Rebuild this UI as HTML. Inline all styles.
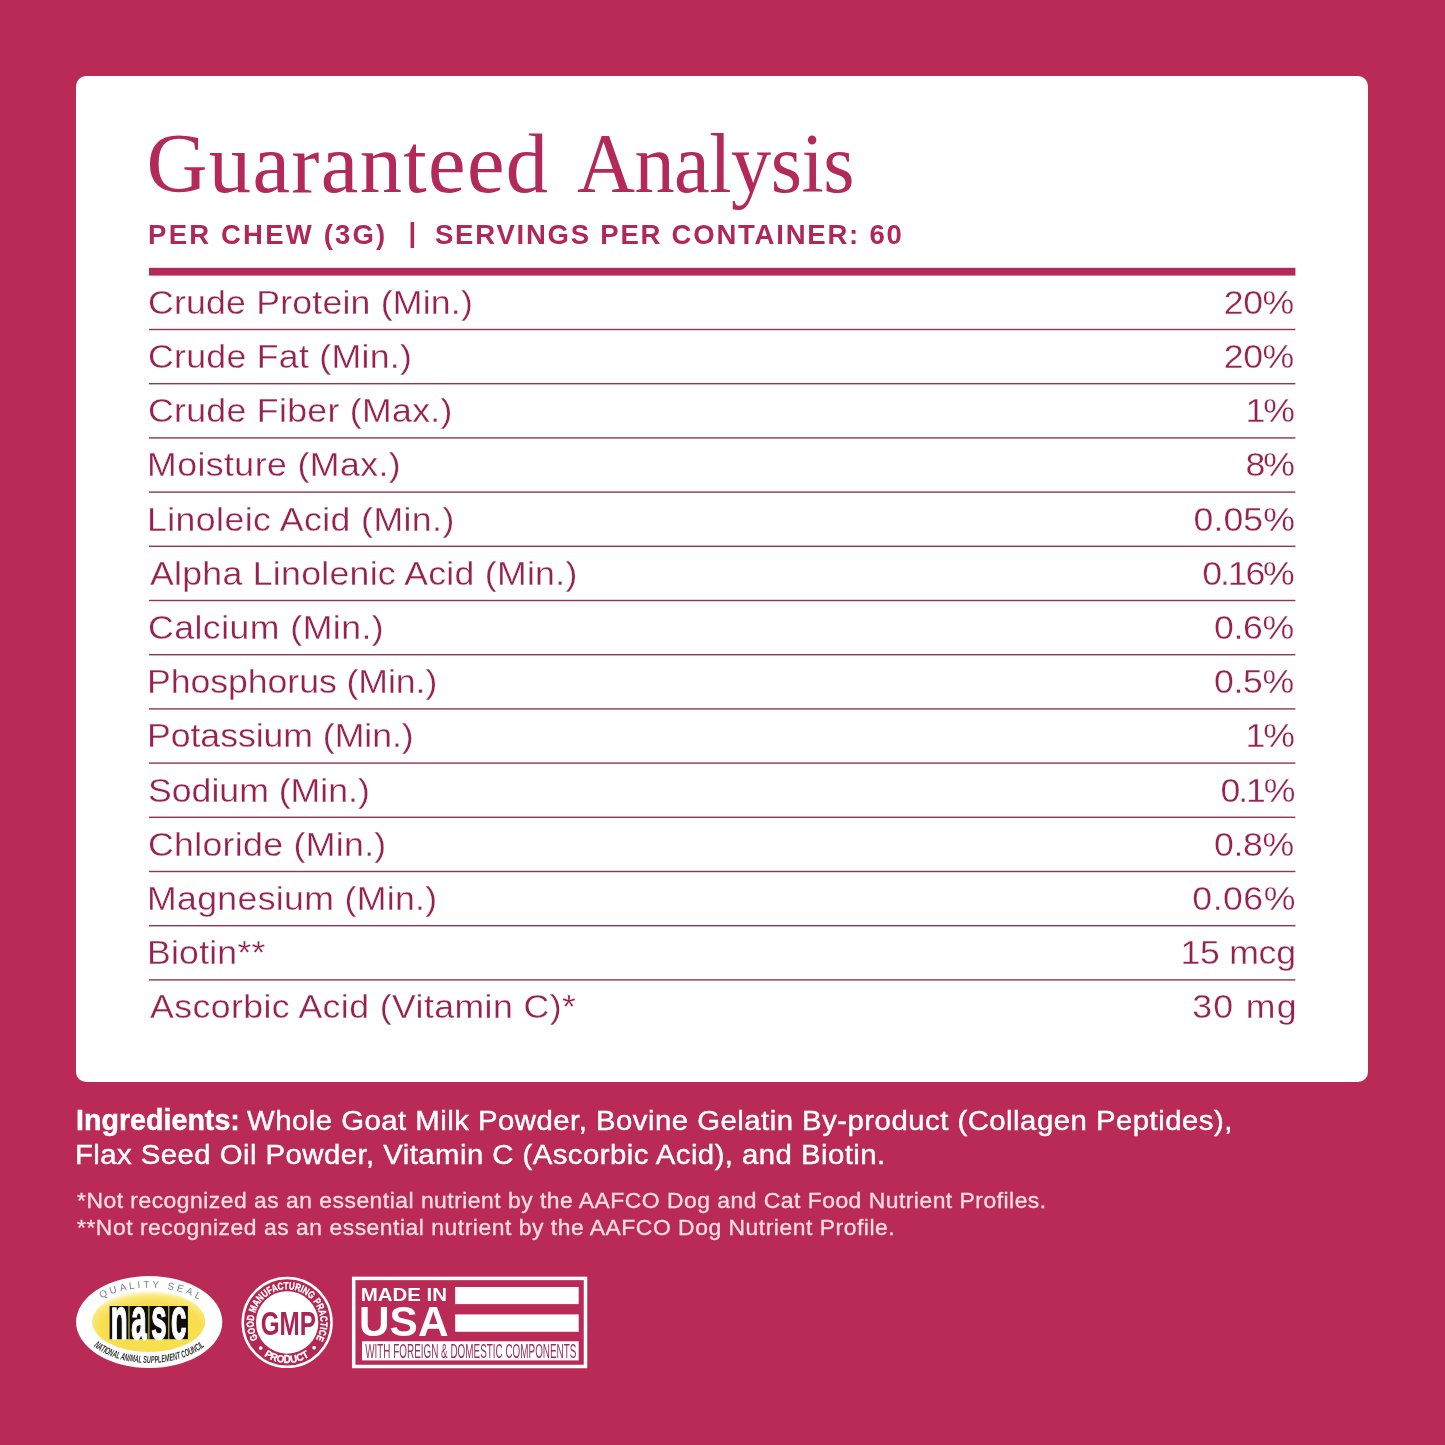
<!DOCTYPE html>
<html lang="en"><head><meta charset="utf-8"><title>Guaranteed Analysis</title>
<style>
html,body{margin:0;padding:0}
body{width:1445px;height:1445px;background:#b92b56;position:relative;overflow:hidden;font-family:"Liberation Sans",sans-serif}
.card{position:absolute;left:76px;top:76px;width:1292px;height:1006px;background:#fff;border-radius:10px}
.t{position:absolute;white-space:pre;line-height:1;margin:0;font-weight:normal;transform-origin:0 0}
.title{font-family:"Liberation Serif",serif;font-size:84.5px;color:#b3295a}
.sub{font-size:27.5px;color:#ae2858}
.b{font-weight:bold}
.row{font-size:33px;color:#96234f;-webkit-text-stroke:0.3px #fff;transform:scaleX(1.08)}
.val{transform-origin:100% 0}
.ing{font-size:28.2px;color:#fff;-webkit-text-stroke:0.45px #fff}
.fn{font-size:21.6px;color:#fbdde6;-webkit-text-stroke:0.3px #fbdde6}
svg{position:absolute;left:0;top:0}
</style></head><body>
<div class="card"></div>
<h1 style="margin:0;font-weight:normal"><span class="t title" style="left:146.5px;top:121.8px;font-size:84.5px;letter-spacing:1.35px;">Guaranteed</span>
<span class="t title" style="left:577.0px;top:121.8px;font-size:84.5px;letter-spacing:-0.52px;transform:scaleX(0.95);">Analysis</span></h1>
<div class="t sub b" style="left:148.1px;top:220.9px;font-size:27.5px;letter-spacing:2.19px;">PER CHEW (3G)</div>
<div class="t sub b" style="left:408.5px;top:219.1px;font-size:27.5px;letter-spacing:0.00px;">|</div>
<div class="t sub b" style="left:435.0px;top:220.9px;font-size:27.5px;letter-spacing:1.78px;">SERVINGS PER CONTAINER: 60</div>
<div class="t ing b" style="left:76.0px;top:1106.1px;font-size:28.6px;letter-spacing:0.02px;">Ingredients:</div>
<div class="t ing" style="left:247.0px;top:1106.4px;font-size:28.2px;letter-spacing:0.47px;transform:scaleX(1.04);">Whole Goat Milk Powder, Bovine Gelatin By-product (Collagen Peptides),</div>
<div class="t ing" style="left:75.0px;top:1139.7px;font-size:28.2px;letter-spacing:0.44px;transform:scaleX(1.04);">Flax Seed Oil Powder, Vitamin C (Ascorbic Acid), and Biotin.</div>
<div class="t fn" style="left:77.0px;top:1190.0px;font-size:21.6px;letter-spacing:0.46px;transform:scaleX(1.06);">*Not recognized as an essential nutrient by the AAFCO Dog and Cat Food Nutrient Profiles.</div>
<div class="t fn" style="left:77.0px;top:1217.0px;font-size:21.6px;letter-spacing:0.49px;transform:scaleX(1.06);">**Not recognized as an essential nutrient by the AAFCO Dog Nutrient Profile.</div>
<div class="t row" style="left:147.7px;top:285.7px;letter-spacing:0.19px">Crude Protein (Min.)</div><div class="t row val" style="right:150.5px;top:285.7px;letter-spacing:-0.39px;margin-right:0.39px">20%</div>
<div class="t row" style="left:147.7px;top:339.9px;letter-spacing:0.27px">Crude Fat (Min.)</div><div class="t row val" style="right:150.5px;top:339.9px;letter-spacing:-0.39px;margin-right:0.39px">20%</div>
<div class="t row" style="left:147.7px;top:394.1px;letter-spacing:0.29px">Crude Fiber (Max.)</div><div class="t row val" style="right:150.5px;top:394.1px;letter-spacing:-2.00px;margin-right:2.00px">1%</div>
<div class="t row" style="left:146.7px;top:448.3px;letter-spacing:0.41px">Moisture (Max.)</div><div class="t row val" style="right:150.5px;top:448.3px;letter-spacing:-2.00px;margin-right:2.00px">8%</div>
<div class="t row" style="left:146.7px;top:502.5px;letter-spacing:0.40px">Linoleic Acid (Min.)</div><div class="t row val" style="right:150.5px;top:502.5px;letter-spacing:0.10px;margin-right:-0.10px">0.05%</div>
<div class="t row" style="left:149.7px;top:556.7px;letter-spacing:0.26px">Alpha Linolenic Acid (Min.)</div><div class="t row val" style="right:150.5px;top:556.7px;letter-spacing:-2.00px;margin-right:2.00px">0.16%</div>
<div class="t row" style="left:147.7px;top:610.9px;letter-spacing:0.43px">Calcium (Min.)</div><div class="t row val" style="right:150.5px;top:610.9px;letter-spacing:-0.38px;margin-right:0.38px">0.6%</div>
<div class="t row" style="left:146.7px;top:665.1px;letter-spacing:-0.05px">Phosphorus (Min.)</div><div class="t row val" style="right:150.5px;top:665.1px;letter-spacing:-0.38px;margin-right:0.38px">0.5%</div>
<div class="t row" style="left:146.7px;top:719.3px;letter-spacing:-0.04px">Potassium (Min.)</div><div class="t row val" style="right:150.5px;top:719.3px;letter-spacing:-2.00px;margin-right:2.00px">1%</div>
<div class="t row" style="left:147.7px;top:773.5px;letter-spacing:-0.00px">Sodium (Min.)</div><div class="t row val" style="right:149.5px;top:773.5px;letter-spacing:-2.00px;margin-right:2.00px">0.1%</div>
<div class="t row" style="left:147.7px;top:827.7px;letter-spacing:0.30px">Chloride (Min.)</div><div class="t row val" style="right:150.5px;top:827.7px;letter-spacing:-0.38px;margin-right:0.38px">0.8%</div>
<div class="t row" style="left:146.7px;top:881.9px;letter-spacing:0.31px">Magnesium (Min.)</div><div class="t row val" style="right:149.5px;top:881.9px;letter-spacing:0.45px;margin-right:-0.45px">0.06%</div>
<div class="t row" style="left:146.7px;top:936.1px;letter-spacing:0.19px">Biotin**</div><div class="t row val" style="right:149.5px;top:936.1px;letter-spacing:-0.25px;margin-right:0.25px">15 mcg</div>
<div class="t row" style="left:149.7px;top:990.3px;letter-spacing:0.39px">Ascorbic Acid (Vitamin C)*</div><div class="t row val" style="right:148.5px;top:990.3px;letter-spacing:1.26px;margin-right:-1.26px">30 mg</div>
<svg width="1445" height="1445" viewBox="0 0 1445 1445" font-family="'Liberation Sans',sans-serif">
<defs>
<radialGradient id="yg" cx="0.52" cy="0.62" r="0.62">
<stop offset="0" stop-color="#f9e052"/><stop offset="0.7" stop-color="#f8de4c"/><stop offset="0.88" stop-color="#fae97e"/><stop offset="1" stop-color="#fffbe4"/>
</radialGradient>
<path id="qs" d="M 101.6 1298.56 A 65.2 34.3 0 0 1 198.5 1299.55"/>
<path id="nc" d="M 93.8 1346.44 A 69 41 0 0 0 204.6 1346.44"/>
<path id="gt" d="M 258.17 1338.85 A 33.3 33.3 0 1 1 316.13 1338.85"/>
<path id="gb" d="M 253.97 1345.68 A 40.5 40.5 0 0 0 320.33 1345.68"/>
</defs>
<rect x="149" y="267.8" width="1146.4" height="7.8" fill="#b3295a"/>
<rect x="149" y="328.80" width="1146.4" height="1.4" fill="#8e3659"/>
<rect x="149" y="383.00" width="1146.4" height="1.4" fill="#8e3659"/>
<rect x="149" y="437.20" width="1146.4" height="1.4" fill="#8e3659"/>
<rect x="149" y="491.40" width="1146.4" height="1.4" fill="#8e3659"/>
<rect x="149" y="545.60" width="1146.4" height="1.4" fill="#8e3659"/>
<rect x="149" y="599.80" width="1146.4" height="1.4" fill="#8e3659"/>
<rect x="149" y="654.00" width="1146.4" height="1.4" fill="#8e3659"/>
<rect x="149" y="708.20" width="1146.4" height="1.4" fill="#8e3659"/>
<rect x="149" y="762.40" width="1146.4" height="1.4" fill="#8e3659"/>
<rect x="149" y="816.60" width="1146.4" height="1.4" fill="#8e3659"/>
<rect x="149" y="870.80" width="1146.4" height="1.4" fill="#8e3659"/>
<rect x="149" y="925.00" width="1146.4" height="1.4" fill="#8e3659"/>
<rect x="149" y="979.20" width="1146.4" height="1.4" fill="#8e3659"/>

<!-- NASC seal -->
<g>
<ellipse cx="149.2" cy="1322" rx="73.1" ry="46" fill="#fff"/>
<ellipse cx="148.7" cy="1321.5" rx="56.5" ry="30.5" fill="url(#yg)"/>
<text font-size="9.8" fill="#76828c" textLength="100.6" lengthAdjust="spacing"><textPath href="#qs" textLength="100.6" lengthAdjust="spacing">QUALITY SEAL</textPath></text>
<text font-size="10" font-weight="bold" font-style="italic" fill="#333" textLength="117.7" lengthAdjust="spacingAndGlyphs"><textPath href="#nc" textLength="117.7" lengthAdjust="spacingAndGlyphs">NATIONAL ANIMAL SUPPLEMENT COUNCIL</textPath></text>
<rect x="109.6" y="1306" width="18.9" height="33.2" fill="#0d0d0d"/>
<rect x="129.5" y="1306" width="18.9" height="33.2" fill="#0d0d0d"/>
<rect x="149.4" y="1306" width="18.9" height="33.2" fill="#0d0d0d"/>
<rect x="169.3" y="1306" width="18.6" height="33.2" fill="#0d0d0d"/>
<text transform="translate(0 1339) scale(0.47 1)" x="253.62 295.74 338.09 380.00" font-weight="bold" font-size="59" fill="#fff" stroke="#fff" stroke-width="1.6" text-anchor="middle">nasc</text>
</g>
<!-- GMP seal -->
<g>
<circle cx="287.15" cy="1322.45" r="44.4" fill="#b12852" stroke="#fff" stroke-width="2.5"/>
<circle cx="287.15" cy="1322.45" r="31.2" fill="#fff"/>
<text font-size="10.2" font-weight="bold" fill="#fff" stroke="#fff" stroke-width="0.35" textLength="138.9" lengthAdjust="spacingAndGlyphs"><textPath href="#gt" textLength="138.9" lengthAdjust="spacingAndGlyphs">GOOD MANUFACTURING PRACTICE</textPath></text>
<text font-size="10.2" font-weight="bold" fill="#fff" stroke="#fff" stroke-width="0.35"><textPath href="#gb" startOffset="14.21" textLength="48.1" lengthAdjust="spacingAndGlyphs">PRODUCT</textPath></text>
<text font-size="11" font-weight="bold" fill="#fff" stroke="#fff" stroke-width="0.35" text-anchor="middle"><textPath href="#gb" startOffset="6.50">•</textPath></text>
<text font-size="11" font-weight="bold" fill="#fff" stroke="#fff" stroke-width="0.35" text-anchor="middle"><textPath href="#gb" startOffset="71.82">•</textPath></text>
<text transform="translate(288.3 1334.6) scale(0.74 1)" font-size="32.8" font-weight="bold" fill="#ab2552" text-anchor="middle">GMP</text>
</g>
<!-- Made in USA -->
<g>
<rect x="353.7" y="1278.4" width="231.8" height="88.1" fill="none" stroke="#fff" stroke-width="3.5"/>
<rect x="455.2" y="1287" width="123.5" height="17.1" fill="#fff"/>
<rect x="455.2" y="1314.4" width="123.5" height="17.4" fill="#fff"/>
<rect x="362" y="1341.3" width="216.7" height="19.1" fill="#fff"/>
<text x="360.7" y="1301" font-size="18.6" font-weight="bold" fill="#fff" textLength="86.3" lengthAdjust="spacingAndGlyphs">MADE IN</text>
<text x="359" y="1336.2" font-size="42.5" font-weight="bold" fill="#fff" textLength="89.5" lengthAdjust="spacingAndGlyphs">USA</text>
<text x="365.2" y="1357.7" font-size="19.8" fill="#96305a" textLength="211.2" lengthAdjust="spacingAndGlyphs">WITH FOREIGN &amp; DOMESTIC COMPONENTS</text>
</g>
</svg>
</body></html>
